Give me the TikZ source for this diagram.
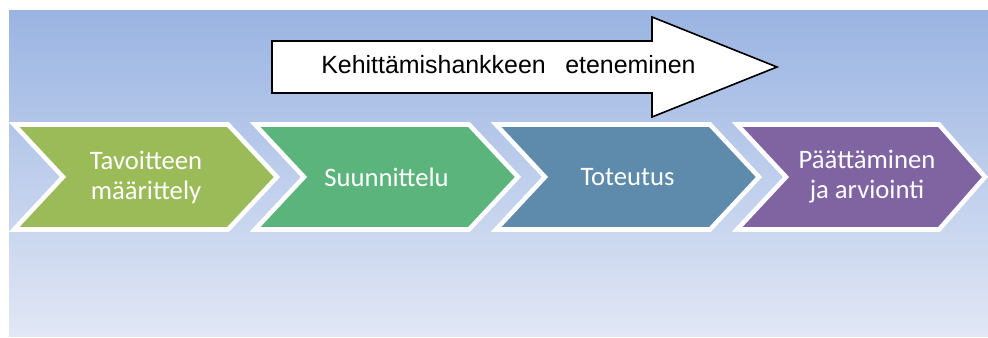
\documentclass[tikz,border=0pt]{standalone}
\usepackage{fontspec}
\setmainfont{Liberation Sans}
\newfontfamily\stepfont{Carlito}

\definecolor{bgtop}{HTML}{9AB4E2}
\definecolor{bgmid}{HTML}{BFCEEC}
\definecolor{bgbot}{HTML}{E1E7F5}
\definecolor{phaseA}{HTML}{9BBB59}
\definecolor{phaseB}{HTML}{5BB47C}
\definecolor{phaseC}{HTML}{5E8BAC}
\definecolor{phaseD}{HTML}{8064A2}

\begin{document}
\begin{tikzpicture}[x=0.75pt,y=-0.75pt,
  chev/.style={draw=white, line width=3.4pt, line join=miter},
  chevtext/.style={text=white, align=center, inner sep=0pt,
    font=\stepfont\fontsize{20pt}{22.5pt}\selectfont},
  bigarrow/.style={draw=black, fill=white, line width=1.2pt, line join=miter},
  arrowtext/.style={text=black, inner sep=0pt,
    font=\fontsize{18.7pt}{22pt}\selectfont}]

% page frame and gradient backdrop
\useasboundingbox (0,0) rectangle (988,337);
\fill[top color=bgtop, middle color=bgmid, bottom color=bgbot] (9,10) rectangle (988,336);

% progress arrow across the top
\draw[bigarrow] (272,41) -- (652,41) -- (652,17) -- (777,67) -- (652,117)
  -- (652,93) -- (272,93) -- cycle;
\node[arrowtext, anchor=base west] (progA) at (321,73) {Kehittämishankkeen};
\node[arrowtext, anchor=base west] (progB) at (565,73) {eteneminen};

% the four phase chevrons
\filldraw[chev, fill=phaseA] (14,124.5) -- ++(214,0) -- ++(49,52.5) -- ++(-49,52.5)
  -- ++(-214,0) -- ++(49,-52.5) -- cycle;
\filldraw[chev, fill=phaseB] (255,124.5) -- ++(214,0) -- ++(49,52.5) -- ++(-49,52.5)
  -- ++(-214,0) -- ++(49,-52.5) -- cycle;
\filldraw[chev, fill=phaseC] (496,124.5) -- ++(214,0) -- ++(49,52.5) -- ++(-49,52.5)
  -- ++(-214,0) -- ++(49,-52.5) -- cycle;
\filldraw[chev, fill=phaseD] (737,124.5) -- ++(202,0) -- ++(46,52.5) -- ++(-46,52.5)
  -- ++(-202,0) -- ++(49,-52.5) -- cycle;

\node[chevtext] (ph1) at (146,177) {Tavoitteen\\määrittely};
\node[chevtext] (ph2) at (386.5,177) {Suunnittelu};
\node[chevtext] (ph3) at (627.5,177) {Toteutus};
\node[chevtext] (ph4) at (867,177) {Päättäminen\\ja arviointi};
\end{tikzpicture}
\end{document}
